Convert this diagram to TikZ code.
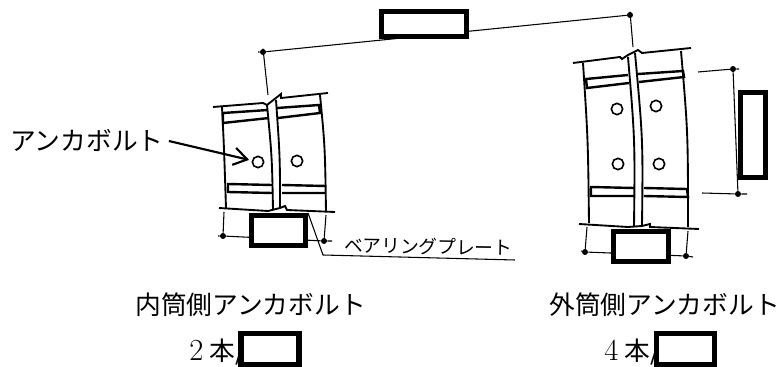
\documentclass[tikz,border=0pt]{standalone}
\usepackage{fontspec}
\newfontfamily\cjk{Noto Sans CJK JP}
\usetikzlibrary{arrows.meta}
\newcommand{\bigdigit}[1]{{\rmfamily\fontsize{23}{23}\selectfont #1}}
\tikzset{
	wall/.style={line width=1.4pt},
	flange/.style={line width=1.8pt},
	thin line/.style={line width=0.8pt},
	bolt/.style={draw, circle, line width=1.2pt, inner sep=0pt, minimum size=8.5pt},
	dimdot/.style={fill, circle, inner sep=0pt, minimum size=4.5pt},
	hidebox/.style={draw, line width=3.8pt, fill=white, inner sep=0pt},
	caption/.style={font=\cjk\fontsize{19.3}{19.3}\selectfont, inner sep=0pt}
}
\begin{document}
\begin{tikzpicture}[x=0.75pt,y=-0.75pt]
	\useasboundingbox (0,0) rectangle (782,367);

	%Inner cylinder side: outline, web and flanges
	\draw[wall] (213,107) -- (263,103) -- (267,105) -- (281,94) -- (281,98) -- (328,93);
	\draw[wall] (219,208) -- (268,211) -- (280,208) -- (285,206) -- (287,210) -- (335,212);
	\draw[wall] (222,107) .. controls (224,147) .. (226,208);
	\draw[wall] (320,95) .. controls (325,147) .. (326,212);
	\draw[wall] (267,105) .. controls (272,157) .. (273,210);
	\draw[wall] (276,100) .. controls (280,157) .. (280,207);
	\draw[flange] (268,110) -- (223,113) -- (223,123) -- (269,118);
	\draw[flange] (277,108) -- (319,105) -- (320,113) -- (278,118);
	\draw[flange] (272,185) -- (228,184) -- (228,192) -- (272,193);
	\draw[flange] (282,185) -- (326,186) (282,193) -- (325,193);
	\node[bolt] (b1) at (258,162) {};
	\node[bolt] (b2) at (297,161) {};

	%Outer cylinder side: outline, web and flanges
	\draw[wall] (573,63) -- (620,57) -- (622,59) -- (628,55) -- (638,50) -- (642,53) -- (691,48);
	\draw[wall] (579,224) -- (628,227) -- (642,226) -- (650,224) -- (650,227) -- (699,229);
	\draw[wall] (583,63) .. controls (588,140) .. (589,223);
	\draw[wall] (681,51) .. controls (688,133) .. (688,227);
	\draw[wall] (628,57) .. controls (635,140) .. (634,227);
	\draw[wall] (635,53) .. controls (643,140) .. (642,226);
	\draw[flange] (628,75) -- (586,79) -- (587,88) -- (629,83);
	\draw[flange] (638,74) -- (683,71) -- (684,77) -- (639,82);
	\draw[flange] (634,188) -- (591,187) -- (591,196) -- (634,196);
	\draw[flange] (644,188) -- (687,189) -- (688,197) -- (644,196);
	\node[bolt] (b3) at (617,109) {};
	\node[bolt] (b4) at (656,106) {};
	\node[bolt] (b5) at (618,164) {};
	\node[bolt] (b6) at (659,164) {};

	%Dimension points
	\node[dimdot] (s1) at (263,52) {};
	\node[dimdot] (s2) at (630,15) {};
	\node[dimdot] (u1) at (223,236) {};
	\node[dimdot] (u2) at (324,241) {};
	\node[dimdot] (v1) at (585,252) {};
	\node[dimdot] (v2) at (686,256) {};
	\node[dimdot] (p1) at (733,69) {};
	\node[dimdot] (p2) at (738,194) {};

	%Dimension and extension lines
	\draw[thin line] (258,52) -- (s1) -- (s2);
	\draw[thin line] (s1.north) -- (268,95);
	\draw[thin line] (s2.north) -- (633,47);
	\draw[thin line] (218,236) -- (u1) -- (u2) -- (332,241);
	\draw[thin line] (224,212) -- (u1);
	\draw[thin line] (326,215) -- (u2);
	\draw[thin line] (581,251) -- (v1) -- (v2) -- (693,257);
	\draw[thin line] (587,227) -- (v1);
	\draw[thin line] (688,231) -- (v2);
	\draw[thin line] (698,72) -- (p1) -- (739,69);
	\draw[thin line] (702,193) -- (p2) -- (747,194);
	\draw[thin line] (p1) -- (p2);

	%Masked dimension boxes
	\node[hidebox, minimum width=63.75pt, minimum height=18.75pt] (span) at (424,24) {};
	\node[hidebox, minimum width=40.5pt, minimum height=22.5pt] (w1) at (278.5,230.5) {};
	\node[hidebox, minimum width=41.25pt, minimum height=22.5pt] (w2) at (641,246.5) {};
	\node[hidebox, minimum width=18.75pt, minimum height=63.75pt] (pitch) at (753,135) {};

	%Labels
	\node[caption, anchor=west] (anchorbolt) at (10,141) {アンカボルト};
	\draw[-{Straight Barb[length=10pt,width=13pt]}, line width=1.6pt, shorten >=2pt] (anchorbolt.east) ++(5,0) -- (b1);
	\node[font=\cjk\fontsize{14}{14}\selectfont, inner sep=0pt, anchor=west, rotate=-1] (plate) at (344,245) {ベアリングプレート};
	\draw[thin line] (w1.north east) -- (323,255) -- (515,260);
	\node[caption, anchor=west] (inner) at (135,305) {内筒側アンカボルト};
	\node[caption, anchor=west] (outer) at (549,305) {外筒側アンカボルト};
	\node[caption, anchor=west] (c2) at (189,352) {\bigdigit{2}\hspace{4.5pt}本/};
	\node[caption, anchor=west] (c4) at (604,352) {\bigdigit{4}\hspace{4.5pt}本/};
	\node[hidebox, minimum width=43.5pt, minimum height=23.25pt] (n1) at (270,349) {};
	\node[hidebox, minimum width=43.5pt, minimum height=23.25pt] (n2) at (685.5,349) {};
\end{tikzpicture}
\end{document}
